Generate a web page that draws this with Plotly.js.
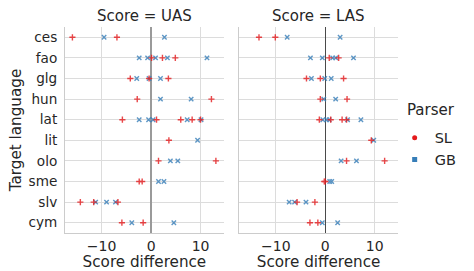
<!DOCTYPE html>
<html>
<head>
<meta charset="utf-8">
<script src="https://cdn.plot.ly/plotly-3.0.1.min.js"></script>
<style>html,body{margin:0;padding:0;background:#fff;}#chart{width:474px;height:271px;}</style>
</head>
<body>
<div id="chart"></div>
<script>
const languages = ["ces","fao","glg","hun","lat","lit","olo","sme","slv","cym"];
const parsers = ["SL","GB"];
const panels = ["UAS","LAS"];
const xTicks = [-10, 0, 10];

// Score differences per language (aligned with languages)
const uasSL = [[-15.9,-6.9],[0.1,2.3,4.9],[-4.2,-0.4,3.5],[-2.8,12.2],[-5.8,1.1,6.0,8.3,10.0],[3.6],[1.5,13.1],[-2.4,-1.8],[-14.3,-11.6,-6.7],[-5.9,-1.6]];
const uasGB = [[-9.5,2.7],[-2.4,-0.7,0.9,3.3,11.3],[-2.9,-0.4,1.9],[1.9,8.1],[-2.4,-0.5,0.4,7.3,10.1],[9.4],[3.9,5.4],[1.5,2.6],[-11.2,-9.0,-7.2],[-3.9,4.6]];
const lasSL = [[-13.4,-10.1],[0.8,2.7],[-3.8,-1.0,3.7],[-1.0,4.4],[-1.2,1.1,3.4,4.3],[9.3],[4.3,12.0],[-0.2,0.0],[-5.7,-2.1],[-3.1,-1.5]];
const lasGB = [[-7.7,3.0],[-3.0,-0.6,1.5,2.1,5.7],[-2.8,-0.1,1.2],[-0.3,2.1],[-0.5,0.3,0.8,4.5,7.2],[9.8],[3.2,6.3],[0.9,1.3],[-7.3,-6.2,-3.9],[-0.6,2.5]];

const red = "#e41a1c", blue = "#377eb8";
const FONT = "DejaVu Sans, sans-serif";
const TXT = "#262626";

function flat(series){
  const xs=[], ys=[];
  series.forEach((vals,i)=>vals.forEach(v=>{xs.push(v); ys.push(languages[i]);}));
  return {xs, ys};
}
function trace(series, color, sym, xa, ya){
  const f = flat(series);
  return {type:"scatter", mode:"markers", x:f.xs, y:f.ys, xaxis:xa, yaxis:ya, showlegend:false,
    opacity:0.8, cliponaxis:false,
    marker:{symbol:sym, size:4.4, color:color, line:{color:color, width:1.4}}};
}
const data = [
  trace(uasGB, blue, "x-thin", "x", "y"),
  trace(uasSL, red, "cross-thin", "x", "y"),
  trace(lasGB, blue, "x-thin", "x2", "y2"),
  trace(lasSL, red, "cross-thin", "x2", "y2"),
  {type:"scatter", mode:"markers", x:[null], y:[null], name:parsers[0], marker:{symbol:"circle", size:5, color:red}, showlegend:true},
  {type:"scatter", mode:"markers", x:[null], y:[null], name:parsers[1], marker:{symbol:"square", size:5, color:blue}, showlegend:true}
];

const L=65, R=411, W=474, H=271;
const pw = R-L;
const d1 = [0, 165/pw], d2 = [181/pw, 1];
const xaxisBase = {range:[-17.4,14.7], tickvals:xTicks, ticktext:xTicks.map(v=>v<0?"\u2212"+Math.abs(v):String(v)),
  showgrid:true, gridcolor:"#dcdcdc", gridwidth:1, showline:true, linecolor:"#cccccc", linewidth:1,
  ticks:"", tickfont:{family:FONT, size:14, color:TXT}, zeroline:true,
  title:{text:"Score difference", font:{family:FONT, size:15.2, color:TXT}, standoff:1}};
const yaxisBase = {type:"category", categoryorder:"array", categoryarray:languages, range:[languages.length-0.5,-0.5],
  showgrid:true, gridcolor:"#dcdcdc", gridwidth:1, showline:true, linecolor:"#cccccc", linewidth:1, ticks:"", zeroline:false,
  tickfont:{family:FONT, size:13.6, color:TXT}};

const layout = {
  width:W, height:H, margin:{l:L, r:W-R, t:27, b:37.5}, paper_bgcolor:"#fff", plot_bgcolor:"#fff",
  font:{family:FONT, color:TXT},
  xaxis:Object.assign({}, xaxisBase, {domain:d1, anchor:"y", zerolinecolor:"#9a9a9a", zerolinewidth:2}),
  xaxis2:Object.assign({}, xaxisBase, {domain:d2, anchor:"y2", zerolinecolor:"#4a4a4a", zerolinewidth:1}),
  yaxis:Object.assign({}, yaxisBase, {anchor:"x", ticklabelstandoff:4, title:{text:"Target language", font:{family:FONT, size:15.2, color:TXT}, standoff:3}}),
  yaxis2:Object.assign({}, yaxisBase, {anchor:"x2", matches:"y", showticklabels:false}),
  showlegend:true,
  legend:{x:0.99, xanchor:"left", y:0.54, yanchor:"top", font:{family:FONT, size:14.5, color:TXT}, bgcolor:"rgba(0,0,0,0)", itemwidth:30},
  annotations:[
    {text:"Score = "+panels[0], xref:"paper", yref:"paper", x:(d1[0]+d1[1])/2, y:1, yanchor:"bottom", xanchor:"center", showarrow:false, font:{family:FONT, size:15, color:TXT}},
    {text:"Score = "+panels[1], xref:"paper", yref:"paper", x:(d2[0]+d2[1])/2, y:1, yanchor:"bottom", xanchor:"center", showarrow:false, font:{family:FONT, size:15, color:TXT}},
    {text:"Parser", xref:"paper", yref:"paper", x:(418-L)/pw, y:1-(110-27)/(233.5-27), xanchor:"left", yanchor:"middle", showarrow:false, font:{family:FONT, size:15, color:TXT}}
  ]
};
Plotly.newPlot("chart", data, layout, {staticPlot:true, displayModeBar:false});
</script>
</body>
</html>
